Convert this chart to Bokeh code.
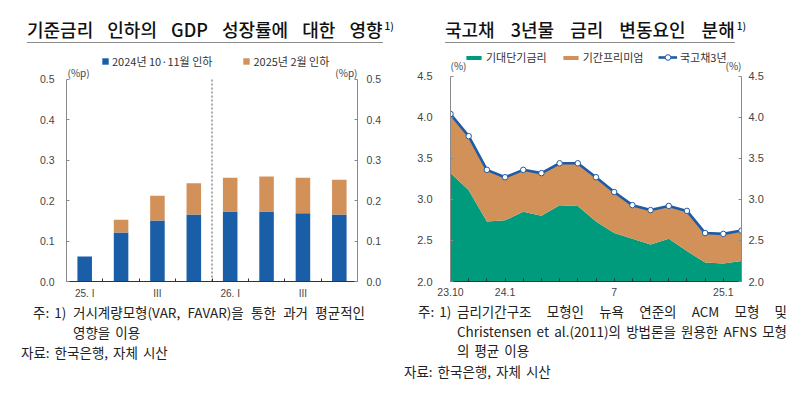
from bokeh.plotting import figure
from bokeh.models import (LinearAxis, FixedTicker, Label, Legend, LegendItem,
                          Range1d, NumeralTickFormatter, Div)
from bokeh.layouts import row, column
from bokeh.embed import file_html
from bokeh.resources import INLINE

KR = "Noto Sans CJK KR"
NUM = "Liberation Sans"

# ---------------- data: chart 1 ----------------
title1 = "기준금리 인하의 GDP 성장률에 대한 영향"
quarter_labels = ["25. I", "", "III", "", "26. I", "", "III", ""]
cut_2024 = [0.062, 0.121, 0.151, 0.166, 0.173, 0.173, 0.169, 0.166]
cut_2025 = [0.000, 0.032, 0.061, 0.077, 0.084, 0.087, 0.088, 0.086]
series1_names = ["2024년 10·11월 인하", "2025년 2월 인하"]
yticks1 = [0.0, 0.1, 0.2, 0.3, 0.4, 0.5]

# ---------------- data: chart 2 ----------------
title2 = "국고채 3년물 금리 변동요인 분해"
month_labels = ["23.10", "", "", "24.1", "", "", "", "", "", "7", "", "", "", "", "", "25.1", ""]
yield_3y = [4.04, 3.77, 3.36, 3.27, 3.36, 3.32, 3.44, 3.44, 3.27, 3.09, 2.93, 2.87, 2.92, 2.86, 2.59, 2.58, 2.62]
short_rate = [3.32, 3.11, 2.73, 2.745, 2.85, 2.80, 2.93, 2.92, 2.73, 2.59, 2.52, 2.45, 2.52, 2.37, 2.23, 2.22, 2.25]
series2_names = ["기대단기금리", "기간프리미엄", "국고채3년"]
yticks2 = [2.0, 2.5, 3.0, 3.5, 4.0, 4.5]

BLUE = "#1A5EA8"
ORANGE = "#D3915A"
GREEN = "#009B7D"
LINEBLUE = "#1E5BA6"

HEADER_H = 42
PLOT_H = 260
NOTES_H = 88
W = 400


def lab(p, x, y, text, size, color="#444444", align="left"):
    p.add_layout(Label(x=x, y=y, x_units="screen", y_units="screen", text=text,
                       text_font=KR, text_font_size=size, text_color=color,
                       text_align=align, text_baseline="middle"))


def style_y(ax, ticks, standoff, size, bounds):
    ax.ticker = FixedTicker(ticks=ticks)
    ax.bounds = bounds
    ax.formatter = NumeralTickFormatter(format="0.0")
    ax.major_tick_in = 3
    ax.major_tick_out = 0
    ax.minor_tick_line_color = None
    ax.axis_line_color = "#8a8a8a"
    ax.major_tick_line_color = "#8a8a8a"
    ax.major_label_text_font = NUM
    ax.major_label_text_font_size = size
    ax.major_label_text_color = "#444444"
    ax.major_label_standoff = standoff


def header_div(left, text, word_sp):
    html = (
        f'<div style="position:relative;width:{W}px;height:{HEADER_H}px;'
        f'font-family:\'{KR}\';color:#111;">'
        f'<div style="position:absolute;left:{left}px;top:18px;font-size:18px;'
        f'line-height:22px;font-weight:500;white-space:nowrap;">'
        f'<span style="border-bottom:1.5px solid #666;word-spacing:{word_sp}px;">{text}</span>'
        f'<span style="font-size:10px;position:relative;top:-7px;margin-left:2px;">1)</span>'
        f'</div></div>')
    return Div(text=html, width=W, height=HEADER_H, margin=0)


def notes_div(lines):
    parts = [f'<div style="position:relative;width:{W}px;height:{NOTES_H}px;'
             f'font-family:\'{KR}\';font-size:13.5px;line-height:18px;color:#222;'
             f'word-spacing:2px;">']
    for x, top, text, width in lines:
        if width:
            parts.append(
                f'<div style="position:absolute;left:{x}px;top:{top}px;width:{width}px;'
                f'white-space:nowrap;text-align:justify;text-align-last:justify;">{text}</div>')
        else:
            parts.append(
                f'<div style="position:absolute;left:{x}px;top:{top}px;white-space:nowrap;">{text}</div>')
    parts.append('</div>')
    return Div(text="".join(parts), width=W, height=NOTES_H, margin=0)


def legend(items, loc, spacing, gw, gh):
    return Legend(items=items, location=loc, orientation="horizontal", padding=0, margin=0,
                  spacing=spacing, glyph_width=gw, glyph_height=gh, label_height=12,
                  label_standoff=3, border_line_color=None, background_fill_alpha=0,
                  label_text_font=KR, label_text_font_size="11px", label_text_color="#333333")


# ================= chart 1 =================
n1 = len(cut_2024)
p1 = figure(width=W, height=PLOT_H, x_range=Range1d(0, n1), y_range=Range1d(0, 0.5866),
            output_backend="svg", toolbar_location=None,
            min_border_left=66, min_border_right=43, min_border_top=2, min_border_bottom=21)
p1.title.visible = False
p1.xgrid.grid_line_color = None
p1.ygrid.grid_line_color = None
p1.outline_line_color = None
xs1 = [i + 0.5 for i in range(n1)]
src1 = dict(x=xs1, a=cut_2024, b=cut_2025)
r1 = p1.vbar_stack(["a", "b"], x="x", width=0.4, source=src1, color=[BLUE, ORANGE],
                   line_color=None)
p1.segment(x0=[n1 / 2], y0=[yticks1[0]], x1=[n1 / 2], y1=[yticks1[-1]],
           line_color="#555555", line_dash="2 2", line_width=1)

ax_r1 = LinearAxis()
p1.add_layout(ax_r1, "right")
style_y(p1.yaxis[0], yticks1, 12, "10.5px", (yticks1[0], yticks1[-1]))
style_y(ax_r1, yticks1, 9, "10.5px", (yticks1[0], yticks1[-1]))

xa1 = p1.xaxis[0]
xa1.ticker = FixedTicker(ticks=xs1, minor_ticks=list(range(n1 + 1)))
xa1.major_label_overrides = {x: t for x, t in zip(xs1, quarter_labels)}
xa1.major_tick_in = 0
xa1.major_tick_out = 0
xa1.minor_tick_in = 3
xa1.minor_tick_out = 0
xa1.minor_tick_line_color = "#333333"
xa1.axis_line_color = "#333333"
xa1.major_label_text_font = NUM
xa1.major_label_text_font_size = "10px"
xa1.major_label_text_color = "#444444"
xa1.major_label_standoff = 6

leg1 = legend([LegendItem(label=series1_names[0], renderers=[r1[0]]),
               LegendItem(label=series1_names[1], renderers=[r1[1]])],
              (35, 212), 30, 8, 8)
p1.add_layout(leg1, "center")
lab(p1, 1, 209, "(%p)", "10px")
lab(p1, 291, 209, "(%p)", "10px", align="right")

# ================= chart 2 =================
n2 = len(yield_3y)
p2 = figure(width=W, height=PLOT_H, x_range=Range1d(0, n2 - 1), y_range=Range1d(2.0, 4.8865),
            output_backend="svg", toolbar_location=None,
            min_border_left=50, min_border_right=59, min_border_top=2, min_border_bottom=19)
p2.title.visible = False
p2.xgrid.grid_line_color = None
p2.ygrid.grid_line_color = None
p2.outline_line_color = None
xs2 = list(range(n2))
a_short = p2.varea(x=xs2, y1=[0] * n2, y2=short_rate, fill_color=GREEN)
a_prem = p2.varea(x=xs2, y1=short_rate, y2=yield_3y, fill_color=ORANGE)
l_yield = p2.line(x=xs2, y=yield_3y, line_color=LINEBLUE, line_width=2.6)
m_yield = p2.scatter(x=xs2, y=yield_3y, size=5.5, fill_color="white", line_color=LINEBLUE,
                     line_width=1)

ax_r2 = LinearAxis()
p2.add_layout(ax_r2, "right")
style_y(p2.yaxis[0], yticks2, 18, "11px", (yticks2[0], yticks2[-1]))
style_y(ax_r2, yticks2, 7, "11px", (yticks2[0], yticks2[-1]))

xa2 = p2.xaxis[0]
xa2.ticker = FixedTicker(ticks=xs2)
xa2.major_label_overrides = {x: t for x, t in zip(xs2, month_labels)}
xa2.major_tick_in = 3
xa2.major_tick_out = 0
xa2.minor_tick_line_color = None
xa2.major_tick_line_color = "#333333"
xa2.axis_line_color = "#333333"
xa2.major_label_text_font = NUM
xa2.major_label_text_font_size = "10.5px"
xa2.major_label_text_color = "#444444"
xa2.major_label_standoff = 6

leg2a = legend([LegendItem(label=series2_names[0], renderers=[a_short]),
                LegendItem(label=series2_names[1], renderers=[a_prem])],
               (14, 216), 14, 19, 5)
leg2b = legend([LegendItem(label=series2_names[2], renderers=[l_yield, m_yield])],
               (208, 216), 14, 19, 14)
p2.add_layout(leg2a, "center")
p2.add_layout(leg2b, "center")
lab(p2, 0, 216, "(%)", "10px")
lab(p2, 291, 216, "(%)", "10px", align="right")

# ================= headers / notes =================
h1 = header_div(27, title1, 10)
h2 = header_div(45, title2, 12)

n1_div = notes_div([
    (33, 1, "주: 1)", 0),
    (73, 1, "거시계량모형(VAR, FAVAR)을 통한 과거 평균적인", 292),
    (73, 21, "영향을 이용", 0),
    (21, 41, "자료: 한국은행, 자체 시산", 0),
])
n2_div = notes_div([
    (18, 0, "주: 1)", 0),
    (57, 0, "금리기간구조 모형인 뉴욕 연준의 ACM 모형 및", 330),
    (57, 20, "Christensen et al.(2011)의 방법론을 원용한 AFNS 모형", 330),
    (57, 39, "의 평균 이용", 0),
    (4, 60, "자료: 한국은행, 자체 시산", 0),
])

layout = column(row(h1, h2, spacing=0), row(p1, p2, spacing=0), row(n1_div, n2_div, spacing=0),
                spacing=0)
open("out.html", "w").write(file_html(layout, INLINE))
